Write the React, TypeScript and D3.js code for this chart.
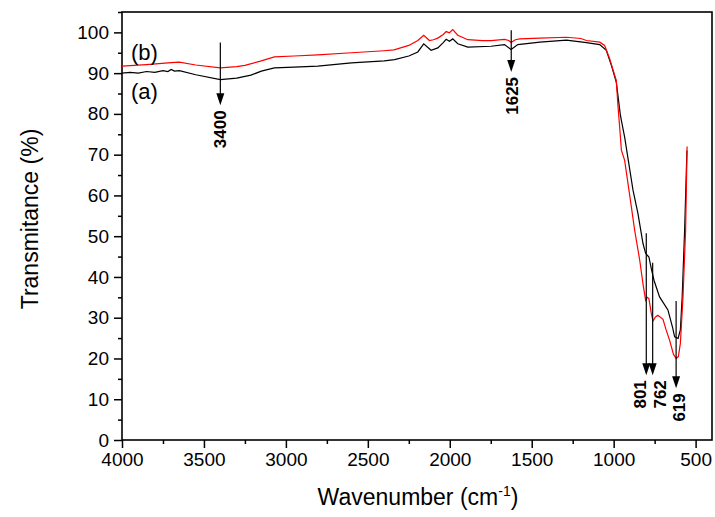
import { useEffect, useRef } from 'react';
import * as d3 from 'd3';

// sample (a), black
const waveA = [4000, 3950, 3900, 3850, 3800, 3750, 3720, 3700, 3680, 3650, 3550, 3400, 3300, 3213, 3150, 3070, 2950, 2805, 2600, 2400, 2337, 2250, 2195, 2159, 2114, 2073, 2040, 2022, 2002, 1982, 1951, 1890, 1748, 1666, 1626, 1585, 1450, 1288, 1166, 1085, 1045, 1014, 984, 960, 953, 933, 882, 852, 821, 805, 785, 770, 754, 720, 669, 640, 628, 607, 593, 582, 567, 553];
const transA = [90.0, 90.2, 90.0, 90.4, 90.2, 90.6, 90.4, 90.9, 90.5, 90.6, 89.6, 88.4, 88.8, 89.5, 90.5, 91.3, 91.5, 91.7, 92.5, 93.0, 93.3, 94.2, 95.2, 97.2, 95.6, 96.2, 97.5, 98.3, 97.8, 98.4, 97.2, 96.4, 96.6, 97.0, 95.8, 97.0, 97.6, 98.1, 97.5, 97.0, 95.6, 91.9, 87.8, 80.0, 78.4, 74.3, 61.3, 55.6, 48.2, 45.8, 44.9, 42.0, 39.2, 35.1, 31.9, 27.5, 25.3, 24.9, 27.0, 35.1, 51.5, 71.0];

// sample (b), red
const waveB = [4000, 3850, 3700, 3650, 3550, 3400, 3300, 3250, 3150, 3070, 2950, 2805, 2600, 2400, 2340, 2250, 2195, 2159, 2124, 2100, 2073, 2040, 2022, 2002, 1982, 1951, 1890, 1800, 1748, 1666, 1640, 1626, 1600, 1573, 1450, 1288, 1200, 1166, 1085, 1055, 1024, 994, 984, 974, 960, 953, 933, 892, 872, 841, 820, 805, 795, 785, 770, 760, 745, 730, 699, 680, 659, 635, 618, 605, 593, 577, 561, 552];
const transB = [91.7, 92.1, 92.6, 92.7, 92.0, 91.3, 91.6, 91.9, 93.0, 94.0, 94.2, 94.5, 95.0, 95.5, 95.7, 96.8, 98.0, 99.3, 98.0, 98.2, 98.6, 99.5, 100.2, 99.9, 100.7, 99.3, 98.2, 98.0, 98.0, 98.3, 98.0, 97.5, 98.2, 98.4, 98.6, 98.8, 98.5, 98.0, 97.6, 96.8, 93.5, 89.5, 88.2, 82.1, 75.0, 71.1, 68.6, 57.2, 51.5, 44.1, 38.0, 34.3, 35.0, 34.7, 31.0, 29.2, 30.2, 30.6, 29.6, 27.0, 24.5, 21.0, 20.0, 20.5, 23.7, 35.1, 51.5, 72.0];

// peak annotations
const peakLabels = ['3400', '1625', '801', '762', '619'];
const peakWave = [3400, 1625, 801, 762, 619];
const peakTop = [97.5, 100.5, 50.7, 43.5, 34.1];
const peakTip = [82.1, 90.3, 15.9, 15.9, 12.7];
const peakLabelShift = [0, 1, -6, 7, 3];

const xTicks = [4000, 3500, 3000, 2500, 2000, 1500, 1000, 500];
const yTicks = [0, 10, 20, 30, 40, 50, 60, 70, 80, 90, 100];

const W = 715;
const H = 517;
const FONT = 'Arial, "Liberation Sans", sans-serif';

export default function App() {
  const svgRef = useRef<SVGSVGElement>(null);

  useEffect(() => {
    const svg = d3.select(svgRef.current);
    svg.selectAll('*').remove();

    const left = 122;
    const right = 712;
    const top = 12;
    const bottom = 440;

    const x = d3.scaleLinear().domain([4000, 400]).range([left, right]);
    const y = d3.scaleLinear().domain([0, 105]).range([bottom, top]);

    // x axis, major + minor ticks
    const xAxis = svg
      .append('g')
      .attr('transform', `translate(0,${bottom})`)
      .call(
        d3.axisBottom(x).tickValues(xTicks).tickSize(8).tickSizeOuter(0).tickPadding(5).tickFormat(d3.format('d'))
      );
    svg
      .append('g')
      .attr('transform', `translate(0,${bottom})`)
      .call(d3.axisBottom(x).tickValues(d3.range(3750, 500, -500)).tickSize(4).tickSizeOuter(0).tickFormat(() => ''))
      .select('.domain')
      .remove();

    // y axis, major + minor ticks
    const yAxis = svg
      .append('g')
      .attr('transform', `translate(${left},0)`)
      .call(d3.axisLeft(y).tickValues(yTicks).tickSize(8).tickSizeOuter(0).tickPadding(5));
    svg
      .append('g')
      .attr('transform', `translate(${left},0)`)
      .call(d3.axisLeft(y).tickValues(d3.range(5, 106, 10)).tickSize(4).tickSizeOuter(0).tickFormat(() => ''))
      .select('.domain')
      .remove();

    [xAxis, yAxis].forEach((g) => {
      g.selectAll('text').style('font-family', FONT).style('font-size', '19px').attr('fill', '#000');
      g.select('.domain').remove();
    });
    svg.selectAll('line').attr('stroke', '#000').attr('stroke-width', 1.5);

    // frame
    svg
      .append('rect')
      .attr('x', left)
      .attr('y', top)
      .attr('width', right - left)
      .attr('height', bottom - top)
      .attr('fill', 'none')
      .attr('stroke', '#000')
      .attr('stroke-width', 1.6);

    const lineA = d3
      .line<number>()
      .x((d) => x(d))
      .y((_, i) => y(transA[i]));
    const lineB = d3
      .line<number>()
      .x((d) => x(d))
      .y((_, i) => y(transB[i]));

    svg
      .append('path')
      .attr('d', lineA(waveA))
      .attr('fill', 'none')
      .attr('stroke', '#000')
      .attr('stroke-width', 1.2);
    svg
      .append('path')
      .attr('d', lineB(waveB))
      .attr('fill', 'none')
      .attr('stroke', '#ff0000')
      .attr('stroke-width', 1.2);

    // peak arrows
    peakWave.forEach((w, i) => {
      const px = x(w);
      const tip = y(peakTip[i]);
      svg
        .append('line')
        .attr('x1', px)
        .attr('x2', px)
        .attr('y1', y(peakTop[i]))
        .attr('y2', tip - 8)
        .attr('stroke', '#000')
        .attr('stroke-width', 1.2);
      svg
        .append('path')
        .attr('d', `M${px - 4},${tip - 12}L${px + 4},${tip - 12}L${px},${tip}Z`)
        .attr('fill', '#000');
      svg
        .append('text')
        .attr('transform', `translate(${px + peakLabelShift[i]},${tip + 5}) rotate(-90)`)
        .attr('text-anchor', 'end')
        .attr('dy', '0.36em')
        .style('font-family', FONT)
        .style('font-size', '17px')
        .style('font-weight', 'bold')
        .text(peakLabels[i]);
    });

    // series labels
    svg
      .append('text')
      .attr('x', 131)
      .attr('y', 60)
      .style('font-family', FONT)
      .style('font-size', '22px')
      .text('(b)');
    svg
      .append('text')
      .attr('x', 131)
      .attr('y', 99)
      .style('font-family', FONT)
      .style('font-size', '22px')
      .text('(a)');

    // axis titles
    svg
      .append('text')
      .attr('transform', `translate(30,219) rotate(-90)`)
      .attr('text-anchor', 'middle')
      .attr('dy', '0.35em')
      .style('font-family', FONT)
      .style('font-size', '23px')
      .text('Transmitance (%)');

    const xt = svg
      .append('text')
      .attr('x', (left + right) / 2 + 1)
      .attr('y', 505)
      .attr('text-anchor', 'middle')
      .style('font-family', FONT)
      .style('font-size', '23px');
    xt.append('tspan').text('Wavenumber (cm');
    xt.append('tspan').attr('dy', -9).style('font-size', '14px').text('-1');
    xt.append('tspan').attr('dy', 9).text(')');
  }, []);

  return (
    <svg
      ref={svgRef}
      width={W}
      height={H}
      style={{ position: 'absolute', left: 0, top: 0, background: '#fff' }}
    />
  );
}
